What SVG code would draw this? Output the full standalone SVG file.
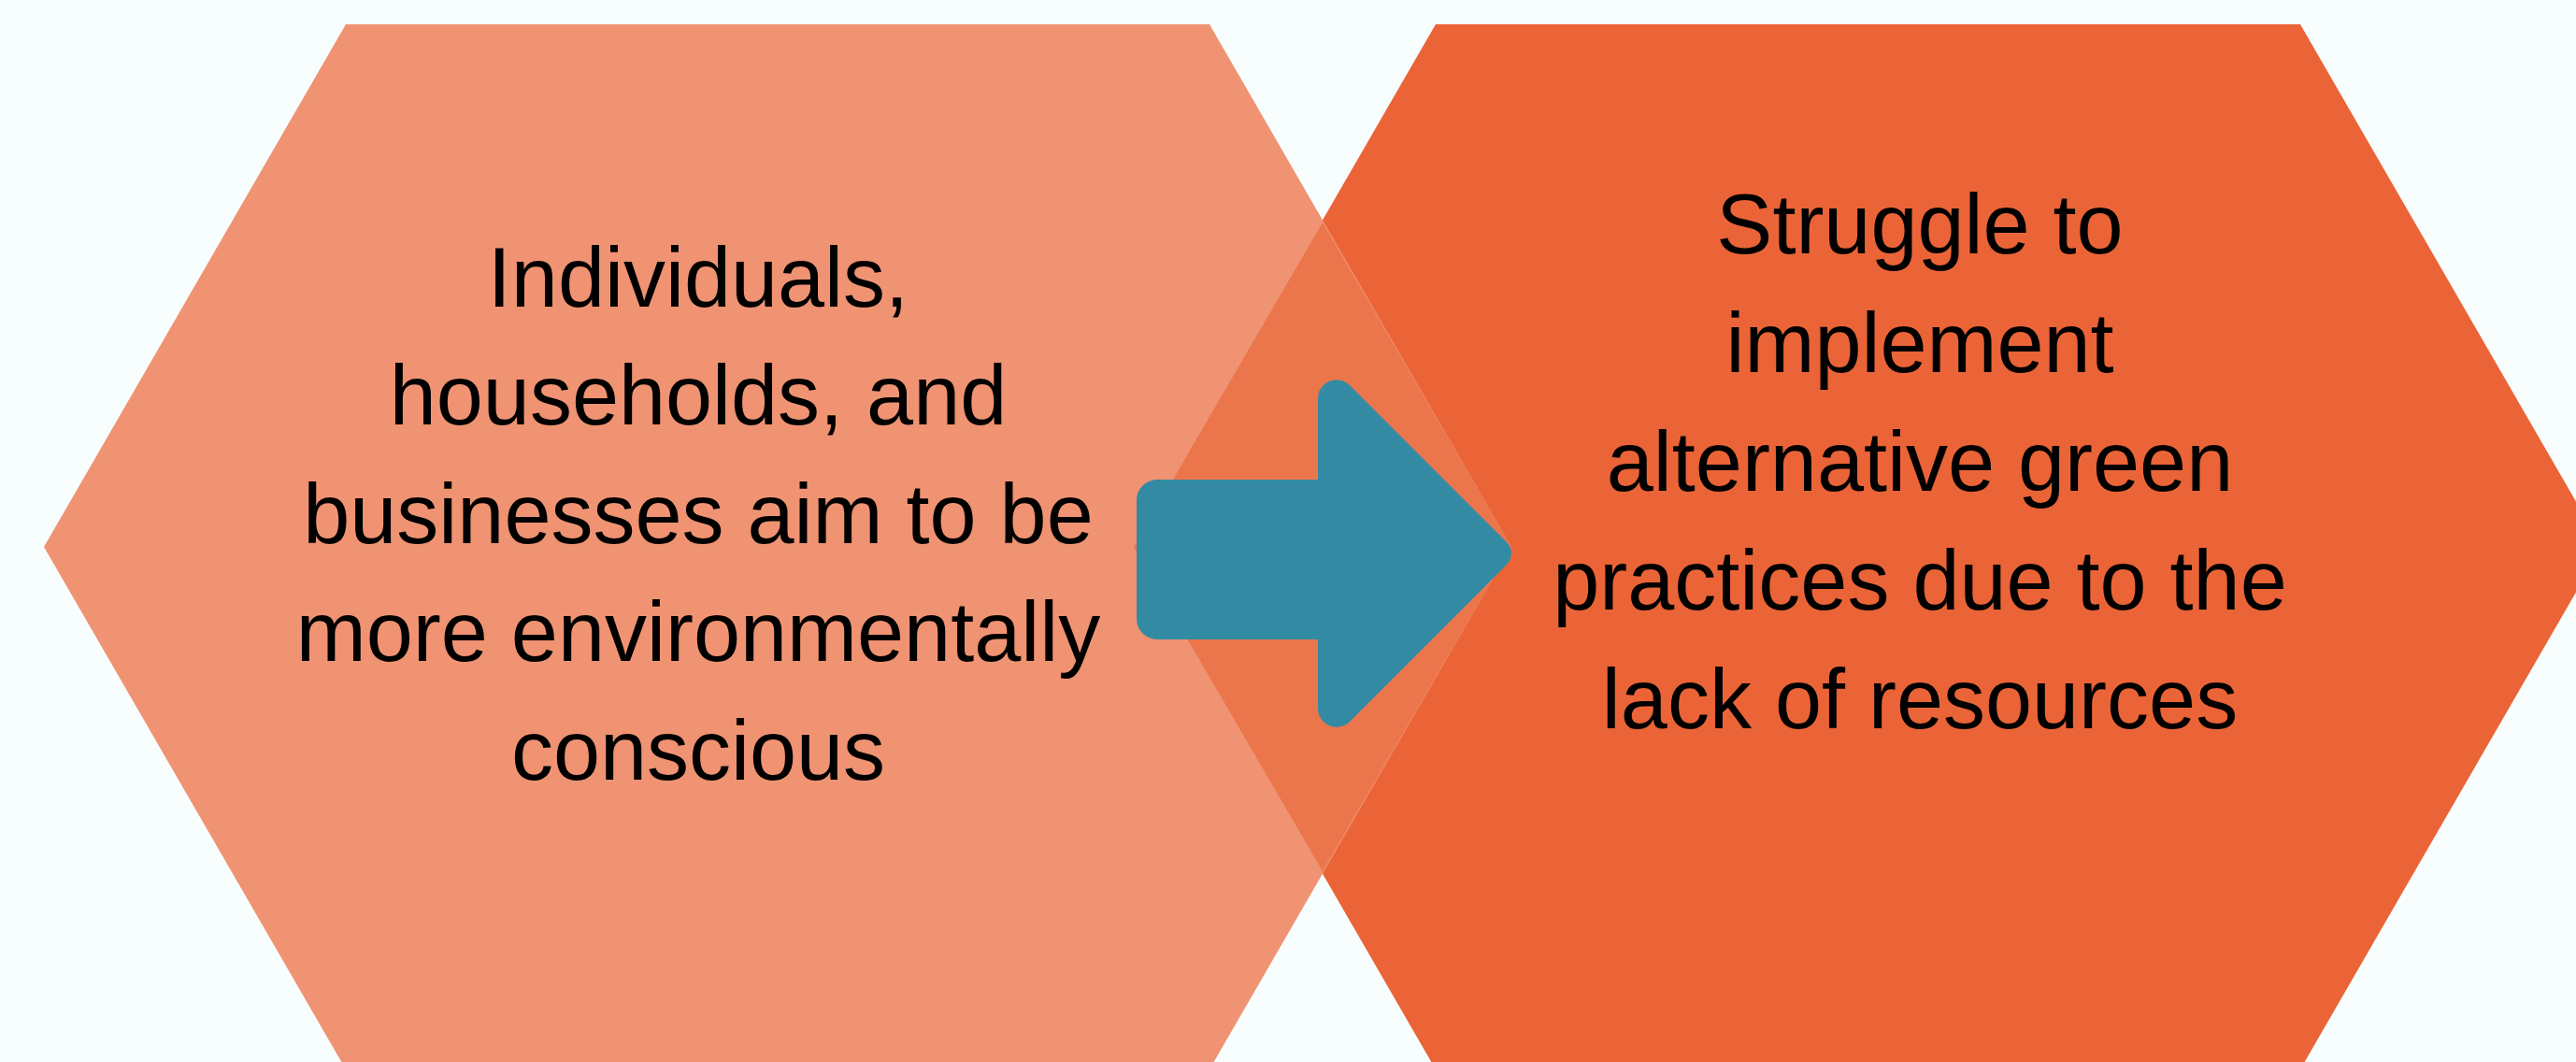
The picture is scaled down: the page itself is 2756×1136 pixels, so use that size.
<svg xmlns="http://www.w3.org/2000/svg" width="2756" height="1136" viewBox="0 0 2756 1136">
<style>
.lbl{font-family:"Liberation Sans",Arial,sans-serif;font-size:90px;fill:#000;text-anchor:middle}
</style>
<rect x="0" y="0" width="2756" height="1136" fill="#F8FEFE"/>
<g id="node-right">
<polygon points="1536,26 2461,26 2784,585 2461,1144 1536,1144 1213,585" fill="#EB6437"/>
</g>
<g id="node-left">
<polygon points="370,26 1294,26 1617,585 1294,1144 370,1144 47,585" fill="#F09373"/>
<polygon points="1415,238 1617,585 1415,932 1213,585" fill="#EC764C"/>
</g>
<g id="connectors">
<path d="M1238,513 L1410,513 L1410,426 A20,20 0 0 1 1444,412 L1612,580 A17,17 0 0 1 1612,604 L1444,772 A20,20 0 0 1 1410,758 L1410,684 L1238,684 A22,22 0 0 1 1216,662 L1216,535 A22,22 0 0 1 1238,513 Z" fill="#338BA3"/>
</g>
<g id="text-left">
<text class="lbl" x="747" y="328">Individuals,</text>
<text class="lbl" x="747" y="454">households, and</text>
<text class="lbl" x="747" y="581">businesses aim to be</text>
<text class="lbl" x="747" y="707">more environmentally</text>
<text class="lbl" x="747" y="834">conscious</text>
</g>
<g id="text-right">
<text class="lbl" x="2054" y="271">Struggle to</text>
<text class="lbl" x="2054" y="398">implement</text>
<text class="lbl" x="2054" y="525">alternative green</text>
<text class="lbl" x="2054" y="652">practices due to the</text>
<text class="lbl" x="2054" y="779">lack of resources</text>
</g>
</svg>
